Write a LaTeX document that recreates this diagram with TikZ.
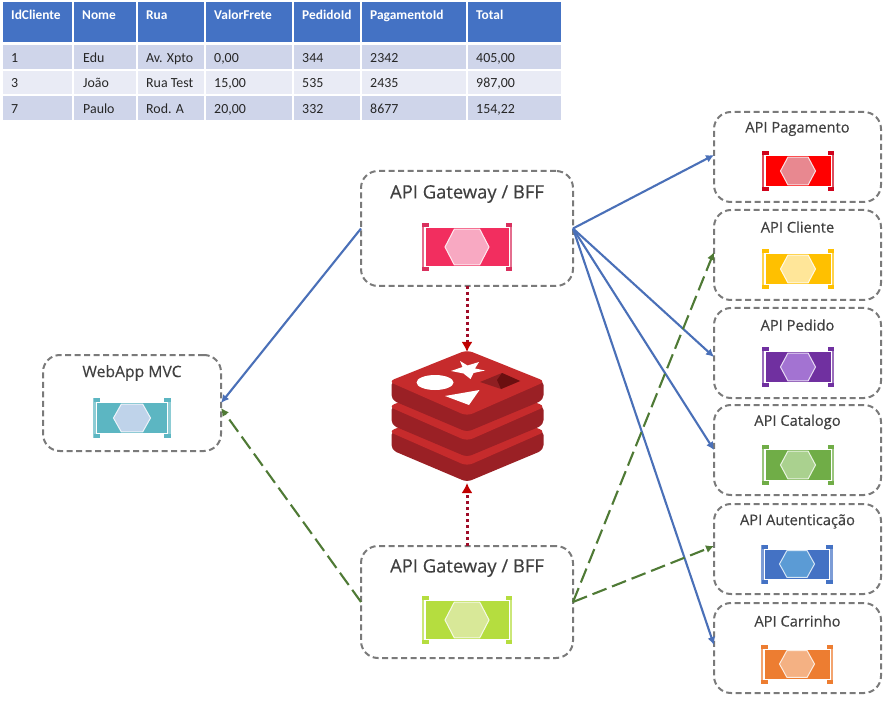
\documentclass[tikz,border=0pt]{standalone}
\usepackage{fontspec}
\setmainfont{Open Sans}
\newfontfamily\tabfont{Carlito}
\newfontfamily\labfont[FakeBold=0.35]{Open Sans}
\usetikzlibrary{arrows.meta}
\definecolor{hdr}{HTML}{4472C4}
\definecolor{rowa}{HTML}{CFD5EA}
\definecolor{rowb}{HTML}{E9EBF5}
\definecolor{boxgray}{HTML}{7A7A7A}
\definecolor{txt}{HTML}{404040}
\definecolor{bluea}{HTML}{4A70B8}
\definecolor{greena}{HTML}{4F7A35}
\definecolor{reda}{HTML}{A00C28}
\definecolor{redtip}{HTML}{C00000}
\definecolor{rlight}{HTML}{C62B2C}
\definecolor{rdark}{HTML}{9A2025}
\definecolor{rhole}{HTML}{8F1F22}
\definecolor{rdeep}{HTML}{6B0F10}
\definecolor{ic1}{HTML}{F22E5F}\definecolor{ib1}{HTML}{D9305E}\definecolor{ih1}{HTML}{F8A9C2}
\definecolor{ic2}{HTML}{B5DD3F}\definecolor{ib2}{HTML}{B5DD3F}\definecolor{ih2}{HTML}{D8E898}
\definecolor{ic3}{HTML}{5CB6C2}\definecolor{ib3}{HTML}{5CB6C2}\definecolor{ih3}{HTML}{BFD3EA}
\definecolor{ic4}{HTML}{FF0000}\definecolor{ib4}{HTML}{D0021B}\definecolor{ih4}{HTML}{E88890}
\definecolor{ic5}{HTML}{FFC000}\definecolor{ib5}{HTML}{FFC000}\definecolor{ih5}{HTML}{FFE699}
\definecolor{ic6}{HTML}{7030A0}\definecolor{ib6}{HTML}{7030A0}\definecolor{ih6}{HTML}{A373D2}
\definecolor{ic7}{HTML}{70AD47}\definecolor{ib7}{HTML}{70AD47}\definecolor{ih7}{HTML}{AAD18F}
\definecolor{ic8}{HTML}{4472C4}\definecolor{ib8}{HTML}{4472C4}\definecolor{ih8}{HTML}{5B9BD5}
\definecolor{ic9}{HTML}{ED7D31}\definecolor{ib9}{HTML}{ED7D31}\definecolor{ih9}{HTML}{F4B183}
\tikzset{
  apibox/.style={draw=boxgray,line width=2pt,dash pattern=on 6pt off 3.5pt,rounded corners=17pt,inner sep=0pt,outer sep=0pt,fill=white},
  boxlabel/.style={text=txt,inner sep=0pt,font=\labfont\fontsize{14.7}{16}\selectfont},
  biglabel/.style={text=txt,inner sep=0pt,font=\labfont\fontsize{18.4}{20}\selectfont},
  bluearrow/.style={draw=bluea,line width=2.1pt,-{Latex[length=8pt,width=8pt]}},
  greenarrow/.style={draw=greena,line width=2.1pt,dash pattern=on 15pt off 6pt,-{Latex[length=8pt,width=8pt]}},
  redarrow/.style={draw=reda,line width=3pt,dash pattern=on 3pt off 3pt,-{Latex[length=10pt,width=11pt,color=redtip,fill=redtip]}},
  tabhead/.style={text=white,anchor=base west,inner sep=0pt,font=\tabfont\bfseries\fontsize{13.4}{15}\selectfont},
  tabtext/.style={text=black!85,anchor=base west,inner sep=0pt,font=\tabfont\fontsize{13.9}{15}\selectfont},
}
% cx cy halfwidth halfheight hexhalfwidth body bracket hex
\newcommand{\apiicon}[8]{%
  \fill[#6] ({#1-#3+3.5},{#2-#4+5}) rectangle ({#1+#3-3.5},{#2+#4-5});
  \draw[#7!70!white,line width=2.3pt] ({#1-#3+1},{#2-#4}) -- ({#1-#3+1},{#2+#4});
  \draw[#7!70!white,line width=2.3pt] ({#1+#3-1},{#2-#4}) -- ({#1+#3-1},{#2+#4});
  \fill[#7] ({#1-#3},{#2-#4}) rectangle ({#1-#3+6.5},{#2-#4+4});
  \fill[#7] ({#1-#3},{#2+#4}) rectangle ({#1-#3+6.5},{#2+#4-4});
  \fill[#7] ({#1+#3},{#2-#4}) rectangle ({#1+#3-6.5},{#2-#4+4});
  \fill[#7] ({#1+#3},{#2+#4}) rectangle ({#1+#3-6.5},{#2+#4-4});
  \draw[white!75!#8,line width=1pt,fill=#8]
    ({#1-#5},#2) -- ({#1-#5*0.58},{#2-#4+6.2}) -- ({#1+#5*0.58},{#2-#4+6.2}) -- ({#1+#5},#2)
    -- ({#1+#5*0.58},{#2+#4-6.2}) -- ({#1-#5*0.58},{#2+#4-6.2}) -- cycle;
}
% one layer of the stack
\newcommand{\redislayer}[2]{%
  \fill[rdark,rounded corners=5pt] (391.5,{#1+27}) -- (467,{#1+60}) -- (543.5,{#1+27}) -- (543.5,{#1+31+#2}) -- (467,{#1+63+#2}) -- (391.5,{#1+31+#2}) -- cycle;
  \fill[rlight,rounded corners=6pt] (467,{#1-3}) -- (388.5,{#1+28.5}) -- (467,{#1+63}) -- (545.5,{#1+28.5}) -- cycle;
}
\begin{document}
\begin{tikzpicture}[x=1pt,y=-1pt]
\useasboundingbox[fill=white] (0,0) rectangle (889,703);
% table
\foreach \xa/\xb in {3/72,74/136,138/204,206/292,294/360,362/466,468/561}{
  \fill[hdr] (\xa,2) rectangle (\xb,42);
  \fill[rowa] (\xa,45) rectangle (\xb,69);
  \fill[rowb] (\xa,71) rectangle (\xb,94);
  \fill[rowa] (\xa,96) rectangle (\xb,120);
}
\foreach \n/\x/\t in {a/11/IdCliente,b/82/Nome,c/146/Rua,d/214/ValorFrete,e/302/PedidoId,f/370/PagamentoId,g/476/Total}
  \node[tabhead] (h\n) at (\x,20) {\t};
\foreach \n/\x/\t in {a/11/1,b/83/Edu,c/146/Av. Xpto,d/214/{0,00},e/302/344,f/370/2342,g/476/{405,00}}
  \node[tabtext] (ra\n) at (\x,62.5) {\t};
\foreach \n/\x/\t in {a/11/3,b/83/João,c/146/Rua Test,d/214/{15,00},e/302/535,f/370/2435,g/476/{987,00}}
  \node[tabtext] (rb\n) at (\x,87.5) {\t};
\foreach \n/\x/\t in {a/11/7,b/83/Paulo,c/146/Rod. A,d/214/{20,00},e/302/332,f/370/8677,g/476/{154,22}}
  \node[tabtext] (rc\n) at (\x,113.5) {\t};
% boxes
\node[apibox,minimum width=212pt,minimum height=115pt] (gwa) at (467,228.5) {};
\node[apibox,minimum width=212pt,minimum height=112pt] (gwb) at (467,602) {};
\node[apibox,minimum width=178pt,minimum height=96pt] (web) at (132,403) {};
\node[apibox,minimum width=167pt,minimum height=90pt] (pag) at (797.5,157) {};
\node[apibox,minimum width=167pt,minimum height=90pt] (cli) at (797.5,255) {};
\node[apibox,minimum width=167pt,minimum height=90pt] (ped) at (797.5,353) {};
\node[apibox,minimum width=167pt,minimum height=90pt] (cat) at (797.5,450) {};
\node[apibox,minimum width=167pt,minimum height=90pt] (aut) at (797.5,549) {};
\node[apibox,minimum width=167pt,minimum height=90pt] (car) at (797.5,648) {};
% labels
\node[biglabel] (lgwa) at (467,194) {API Gateway / BFF};
\node[biglabel] (lgwb) at (467,568) {API Gateway / BFF};
\node[boxlabel,font=\labfont\fontsize{15.7}{18}\selectfont] (lweb) at (132,373) {WebApp MVC};
\node[boxlabel] (lpag) at (797.5,129) {API Pagamento};
\node[boxlabel] (lcli) at (797.5,227) {API Cliente};
\node[boxlabel] (lped) at (797.5,325) {API Pedido};
\node[boxlabel] (lcat) at (797.5,422) {API Catalogo};
\node[boxlabel] (laut) at (797.5,521.5) {API Autenticação};
\node[boxlabel] (lcar) at (797.5,621) {API Carrinho};
% icons
\apiicon{467}{247}{45}{24}{22}{ic1}{ib1}{ih1}
\apiicon{467}{620}{45}{24}{22}{ic2}{ib2}{ih2}
\apiicon{132}{418}{38.5}{20}{18.5}{ic3}{ib3}{ih3}
\apiicon{798}{171}{36}{20}{17.5}{ic4}{ib4}{ih4}
\apiicon{798}{269}{36}{20}{17.5}{ic5}{ib5}{ih5}
\apiicon{798}{367}{36}{20}{17.5}{ic6}{ib6}{ih6}
\apiicon{798}{465}{36}{20}{17.5}{ic7}{ib7}{ih7}
\apiicon{797}{564}{35.5}{19.5}{17.5}{ic8}{ib8}{ih8}
\apiicon{797}{664}{36}{19.5}{17.5}{ic9}{ib9}{ih9}
% redis logo
\node[inner sep=0pt,outer sep=0pt,minimum width=152pt,minimum height=131pt] (redis) at (467,417.5) {};
\redislayer{403}{16}
\redislayer{378}{16}
\redislayer{353}{16}
\fill[white] (435,382.5) ellipse [x radius=18.5,y radius=7.5];
\fill[white] (460,361) -- (467.5,365.5) -- (479,362) -- (475,368.5) -- (485,370.5) -- (473.5,373) -- (470.5,379) -- (463.5,373.5) -- (451,371) -- (462.5,367) -- cycle;
\fill[white] (445,396) -- (479.5,390) -- (469,405) -- cycle;
\fill[rhole] (480,382) -- (502,373) -- (520,381) -- (501,389) -- cycle;
\fill[rdeep] (502,373) -- (520,381) -- (501,389) -- (497,380) -- cycle;
% connectors
\draw[bluearrow] (gwa.west) -- (web.east);
\draw[bluearrow] (gwa.east) -- ([yshift=2pt]pag.west);
\draw[bluearrow] (gwa.east) -- ([yshift=-4pt]ped.west);
\draw[bluearrow] (gwa.east) -- (cat.west);
\draw[bluearrow] (gwa.east) -- ([yshift=3pt]car.west);
\draw[greenarrow] (gwb.west) -- ([yshift=-5pt]web.east);
\draw[greenarrow] (gwb.east) -- ([yshift=3pt]cli.west);
\draw[greenarrow] (gwb.east) -- ([yshift=3pt]aut.west);
\draw[redarrow] (gwa.south) -- (redis.north);
\draw[redarrow] (gwb.north) -- (redis.south);
\end{tikzpicture}
\end{document}
